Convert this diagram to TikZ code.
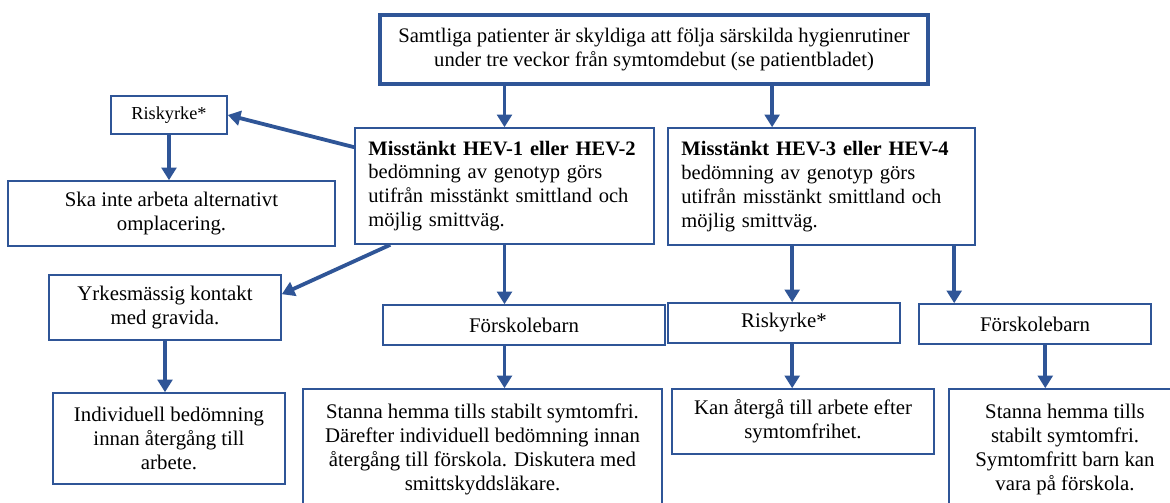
\documentclass[tikz,border=0pt]{standalone}
\usepackage{fontspec}
\setmainfont{Liberation Serif}
\usepackage{tikz}
\usetikzlibrary{arrows.meta,calc,positioning}
\definecolor{boxblue}{RGB}{47,85,151}

\begin{document}
\begin{tikzpicture}[x=0.025cm,y=-0.025cm,
  box/.style={draw=boxblue,line width=1.1pt,fill=white,align=center,inner sep=0pt,
    font=\fontsize{14.8}{17}\selectfont},
  leftbox/.style={box,align=left,text width=#1,font=\fontsize{14.6}{17}\selectfont},
  arr/.style={draw=boxblue,line width=2.7pt,-{Triangle[length=9pt,width=10.5pt]}}]
\clip (0,0) rectangle (1170,502);
\fill[white] (0,0) rectangle (1170,502);
\node[box,line width=2.6pt,minimum width=13.7cm,minimum height=1.725cm,font=\fontsize{14.7}{16.5}\selectfont] (top) at (654,49.5)
  {Samtliga patienter är skyldiga att följa särskilda hygienrutiner\\under tre veckor från symtomdebut (se patientbladet)};
\node[box,minimum width=2.9cm,minimum height=0.95cm,font=\fontsize{13}{16}\selectfont] (rk1) at (169,115) {Riskyrke*};
\node[box,minimum width=8.175cm,minimum height=1.625cm] (ska) at (171.5,213.5) {Ska inte arbeta alternativt\\omplacering.};
\node[leftbox=6.8cm,minimum width=7.475cm,minimum height=2.9cm] (hev1) at (504.5,186)
  {\textbf{Misstänkt HEV-1 eller HEV-2}\\bedömning av genotyp görs\\utifrån misstänkt smittland och\\möjlig smittväg.};
\node[leftbox=7.0cm,minimum width=7.675cm,minimum height=2.925cm] (hev3) at (821.5,186.5)
  {\textbf{Misstänkt HEV-3 eller HEV-4}\\bedömning av genotyp görs\\utifrån misstänkt smittland och\\möjlig smittväg.};
\node[box,minimum width=5.8cm,minimum height=1.625cm] (yrk) at (165,307.5) {Yrkesmässig kontakt\\med gravida.};
\node[box,minimum width=7.05cm,minimum height=1.0cm] (fsk1) at (524,325) {Förskolebarn};
\node[box,minimum width=5.8cm,minimum height=1.0cm] (rk2) at (784,323) {Riskyrke*};
\node[box,minimum width=5.8cm,minimum height=1.0cm] (fsk2) at (1035,324) {Förskolebarn};
\node[box,minimum width=5.8cm,minimum height=2.275cm] (ind) at (169,438.5) {Individuell bedömning\\innan återgång till\\arbete.};
\node[box,minimum width=8.975cm,minimum height=3.025cm] (st1) at (482.5,449.5)
  {Stanna hemma tills stabilt symtomfri.\\Därefter individuell bedömning innan\\återgång till förskola. Diskutera med\\smittskyddsläkare.};
\node[box,minimum width=6.55cm,minimum height=1.625cm] (kan) at (803,421.5) {Kan återgå till arbete efter\\symtomfrihet.};
\node[box,minimum width=5.8cm,minimum height=3.025cm] (st2) at (1065,449.5)
  {Stanna hemma tills\\stabilt symtomfri.\\Symtomfritt barn kan\\vara på förskola.};
\coordinate (h3a) at ($(hev3.north west)!.34!(hev3.north east)$);
\coordinate (h3b) at ($(hev3.south west)!.405!(hev3.south east)$);
\coordinate (h3c) at ($(hev3.south west)!.93!(hev3.south east)$);
\coordinate (h1a) at ($(hev1.north west)!.17!(hev1.south west)$);
\coordinate (h1b) at ($(hev1.south west)!.12!(hev1.south east)$);
\coordinate (f2a) at ($(fsk2.south west)!.544!(fsk2.south east)$);
\draw[arr] (top.south -| hev1.north) -- (hev1.north);
\draw[arr] (top.south -| h3a) -- (h3a);
\draw[arr] (h1a) -- (rk1.east);
\draw[arr] (rk1.south) -- (ska.north -| rk1.south);
\draw[arr] (h1b) -- ($(yrk.north east)!.3!(yrk.south east)$);
\draw[arr] (yrk.south) -- (ind.north -| yrk.south);
\draw[arr] (hev1.south) -- (fsk1.north -| hev1.south);
\draw[arr] (fsk1.south -| hev1.south) -- (st1.north -| hev1.south);
\draw[arr] (h3b) -- (rk2.north -| h3b);
\draw[arr] (h3c) -- (fsk2.north -| h3c);
\draw[arr] (rk2.south -| h3b) -- (kan.north -| h3b);
\draw[arr] (f2a) -- (st2.north -| f2a);
\end{tikzpicture}
\end{document}
